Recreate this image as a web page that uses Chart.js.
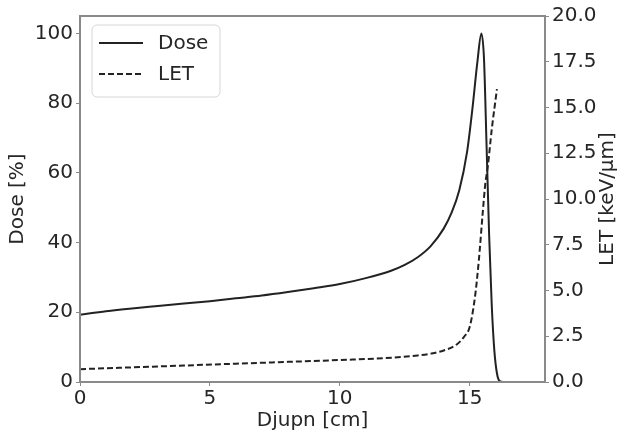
<!DOCTYPE html>
<html>
<head>
<meta charset="utf-8">
<script src="https://cdn.jsdelivr.net/npm/chart.js@4"></script>
<style>
  html, body { margin: 0; padding: 0; background: #fff; }
  #wrap { width: 622px; height: 434px; }
</style>
</head>
<body>
<div id="wrap"><canvas id="chart" width="622" height="434"></canvas></div>
<script>
// dose curve (depth in cm, dose in %)
const doseDepth = [0, 1, 2, 3, 4, 5, 6, 7, 8, 9, 10, 11, 12, 12.5, 13, 13.5, 14, 14.3, 14.6, 14.9, 15.1, 15.3, 15.45, 15.55, 15.65, 15.75, 15.85, 15.95, 16.05, 16.15, 16.3, 17.9];
const doseValues = [19.3, 20.3, 21.1, 21.8, 22.5, 23.2, 24.0, 24.8, 25.8, 26.9, 28.1, 29.8, 32.0, 33.6, 35.8, 39.0, 44.0, 48.5, 55.0, 66.0, 78.0, 92.0, 100.0, 93.0, 68.0, 42.0, 22.0, 9.0, 2.5, 0.3, 0, 0];

// LET curve (depth in cm, keV/um)
const letDepth = [0, 2, 4, 6, 8, 10, 12, 13, 13.5, 14, 14.5, 14.8, 15.0, 15.2, 15.35, 15.5, 15.6, 15.7, 15.85, 16.05];
const letValues = [0.7, 0.8, 0.9, 1.0, 1.1, 1.2, 1.33, 1.45, 1.55, 1.72, 2.05, 2.5, 3.0, 4.6, 6.6, 9.2, 10.8, 11.8, 13.8, 16.0];

// axis ticks
const xTicks = [0, 5, 10, 15];
const doseTicks = [0, 20, 40, 60, 80, 100];
const letTicks = [0, 2.5, 5, 7.5, 10, 12.5, 15, 17.5, 20];

const FONT = 'DejaVu Sans';
const TEXT = '#262626';
const SPINE = '#8a8a8a';

function toPoints(xs, ys) {
    return xs.map((x, i) => ({ x: x, y: ys[i] }));
}

//------------------------- frame, axis titles and legend ------------------------//
const decorPlugin = {
    id: 'decor',
    afterDatasetsDraw(chart) {
        const ctx = chart.ctx;
        const a = chart.chartArea;
        ctx.save();

        // spines on all four sides
        ctx.strokeStyle = SPINE;
        ctx.lineWidth = 2;
        ctx.strokeRect(a.left, a.top, a.right - a.left, a.bottom - a.top);

        // axis titles
        ctx.fillStyle = TEXT;
        ctx.font = '20px "' + FONT + '"';
        ctx.textAlign = 'center';
        ctx.textBaseline = 'middle';
        ctx.fillText('Djupn [cm]', (a.left + a.right) / 2, 421);

        ctx.save();
        ctx.translate(18, (a.top + a.bottom) / 2);
        ctx.rotate(-Math.PI / 2);
        ctx.fillText('Dose [%]', 0, 0);
        ctx.restore();

        ctx.save();
        ctx.translate(608, (a.top + a.bottom) / 2);
        ctx.rotate(-Math.PI / 2);
        ctx.fillText('LET [keV/\u03bcm]', 0, 0);
        ctx.restore();

        // legend box
        const bx = 92, by = 25, bw = 128, bh = 72, r = 5;
        ctx.beginPath();
        ctx.moveTo(bx + r, by);
        ctx.arcTo(bx + bw, by, bx + bw, by + bh, r);
        ctx.arcTo(bx + bw, by + bh, bx, by + bh, r);
        ctx.arcTo(bx, by + bh, bx, by, r);
        ctx.arcTo(bx, by, bx + bw, by, r);
        ctx.closePath();
        ctx.fillStyle = 'rgba(255,255,255,0.8)';
        ctx.fill();
        ctx.strokeStyle = '#d6d6d6';
        ctx.lineWidth = 1;
        ctx.stroke();

        const rows = [43, 74];
        chart.data.datasets.forEach((ds, i) => {
            ctx.strokeStyle = ds.borderColor;
            ctx.lineWidth = ds.borderWidth;
            ctx.setLineDash(ds.borderDash || []);
            ctx.beginPath();
            ctx.moveTo(99, rows[i]);
            ctx.lineTo(143, rows[i]);
            ctx.stroke();
            ctx.setLineDash([]);
            ctx.fillStyle = TEXT;
            ctx.textAlign = 'left';
            ctx.fillText(ds.label, 158, rows[i] + 1);
        });

        ctx.restore();
    }
};

function fixedTicks(list) {
    return scale => { scale.ticks = list.map(v => ({ value: v })); };
}

const tickGrid = { drawOnChartArea: false, drawTicks: true, tickLength: 4, color: SPINE, lineWidth: 1 };

new Chart(document.getElementById('chart'), {
    type: 'line',
    data: {
        datasets: [{
            label: 'Dose',
            data: toPoints(doseDepth, doseValues),
            yAxisID: 'y',
            borderColor: '#222',
            borderWidth: 2,
            pointRadius: 0,
            fill: false,
            cubicInterpolationMode: 'monotone'
        }, {
            label: 'LET',
            data: toPoints(letDepth, letValues),
            yAxisID: 'y2',
            borderColor: '#222',
            borderWidth: 2,
            borderDash: [6, 3],
            pointRadius: 0,
            fill: false,
            cubicInterpolationMode: 'monotone'
        }]
    },
    options: {
        responsive: false,
        animation: false,
        events: [],
        layout: { padding: { top: 16, left: 0, right: 0, bottom: 0 } },
        plugins: {
            legend: { display: false },
            tooltip: { enabled: false }
        },
        scales: {
            x: {
                type: 'linear',
                min: 0,
                max: 17.9,
                afterBuildTicks: fixedTicks(xTicks),
                afterFit: s => { s.height = 52; },
                grid: tickGrid,
                border: { display: false },
                ticks: { color: TEXT, font: { family: FONT, size: 20 }, padding: 1, maxRotation: 0 }
            },
            y: {
                position: 'left',
                min: 0,
                max: 105,
                afterBuildTicks: fixedTicks(doseTicks),
                afterFit: s => { s.width = 80; },
                grid: tickGrid,
                border: { display: false },
                ticks: { color: TEXT, font: { family: FONT, size: 20 }, padding: 3 }
            },
            y2: {
                position: 'right',
                min: 0,
                max: 20,
                afterBuildTicks: fixedTicks(letTicks),
                afterFit: s => { s.width = 77; },
                grid: tickGrid,
                border: { display: false },
                ticks: {
                    color: TEXT,
                    font: { family: FONT, size: 20 },
                    padding: 3,
                    callback: v => Number(v).toFixed(1)
                }
            }
        }
    },
    plugins: [decorPlugin]
});
</script>
</body>
</html>
